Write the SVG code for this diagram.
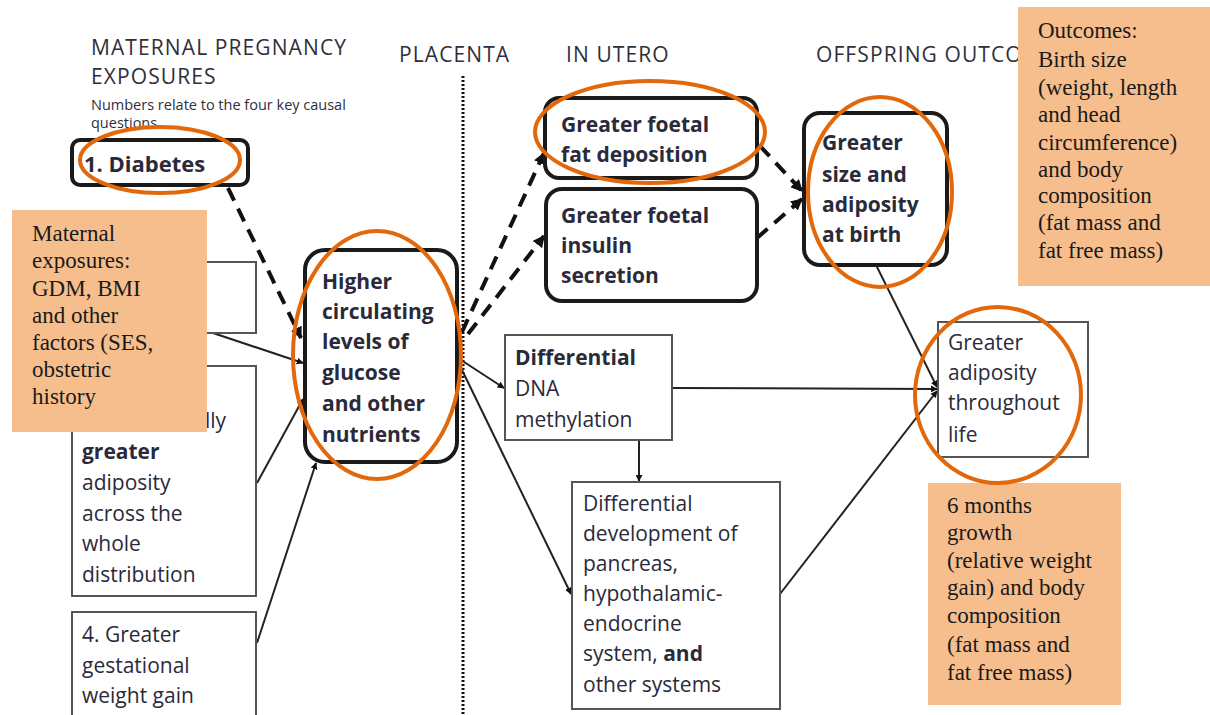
<svg xmlns="http://www.w3.org/2000/svg" width="1210" height="715" viewBox="0 0 1210 715">
  <style>
    .hdr { font-family: "Open Sans", "Liberation Sans", sans-serif; font-size: 21px; letter-spacing: 1.1px; fill: #2f2f3c; }
    .small { font-family: "Open Sans", "Liberation Sans", sans-serif; font-size: 14.5px; fill: #2f2f3c; }
    .t { font-family: "Open Sans", "Liberation Sans", sans-serif; font-size: 21px; fill: #2a2a3a; }
    .b { font-weight: bold; }
    .note { font-family: "Liberation Serif", "Times New Roman", serif; font-size: 23px; fill: #1a1a1a; }
    .thick { fill: #ffffff; stroke: #1a1a1a; stroke-width: 4; }
    .thin { fill: #ffffff; stroke: #555555; stroke-width: 2; }
    .peach { fill: #F7BE8D; }
    .ring { fill: none; stroke: #E2680C; stroke-width: 4; }
    .solid { fill: none; stroke: #222222; stroke-width: 2; }
    .dash { fill: none; stroke: #111111; stroke-width: 4; stroke-dasharray: 14 9; }
  </style>
  <defs>
    <marker id="arrow" viewBox="0 0 10 10" refX="9" refY="5" markerWidth="7" markerHeight="7" markerUnits="userSpaceOnUse" orient="auto">
      <path d="M0,0 L10,5 L0,10 z" fill="#111111"/>
    </marker>
    <marker id="arrowBig" viewBox="0 0 10 10" refX="9" refY="5" markerWidth="12" markerHeight="12" markerUnits="userSpaceOnUse" orient="auto">
      <path d="M0,0 L10,5 L0,10 z" fill="#111111"/>
    </marker>
  </defs>
  <rect width="1210" height="715" fill="#ffffff"/>

  <!-- column headings -->
  <g id="headings">
    <text class="hdr" x="91" y="55">MATERNAL PREGNANCY</text>
    <text class="hdr" x="91" y="84">EXPOSURES</text>
    <text class="small" x="91" y="110">Numbers relate to the four key causal</text>
    <text class="small" x="91" y="128">questions</text>
    <text class="hdr" x="399" y="62">PLACENTA</text>
    <text class="hdr" x="566" y="62">IN UTERO</text>
    <text class="hdr" x="816" y="62">OFFSPRING OUTCO</text>
  </g>

  <!-- placenta boundary -->
  <line id="placenta-line" x1="463" y1="76" x2="463" y2="715" stroke="#111111" stroke-width="3" stroke-dasharray="2 2"/>

  <!-- connectors -->
  <g id="connectors">
    <line class="dash" x1="228" y1="188" x2="301" y2="338" marker-end="url(#arrowBig)"/>
    <line class="solid" x1="207" y1="331" x2="303" y2="363" marker-end="url(#arrow)"/>
    <line class="solid" x1="257" y1="483" x2="303" y2="399" marker-end="url(#arrow)"/>
    <line class="solid" x1="257" y1="643" x2="316" y2="463" marker-end="url(#arrow)"/>
    <line class="dash" x1="462" y1="332" x2="544" y2="153" marker-end="url(#arrowBig)"/>
    <line class="dash" x1="468" y1="334" x2="544" y2="236" marker-end="url(#arrowBig)"/>
    <line class="solid" x1="461" y1="360" x2="504" y2="388" marker-end="url(#arrow)"/>
    <line class="solid" x1="462" y1="370" x2="571" y2="594" marker-end="url(#arrow)"/>
    <line class="solid" x1="639" y1="440" x2="639" y2="481" marker-end="url(#arrow)"/>
    <line class="solid" x1="672" y1="388" x2="937" y2="389" marker-end="url(#arrow)"/>
    <line class="solid" x1="780" y1="594" x2="937" y2="391" marker-end="url(#arrow)"/>
    <line class="solid" x1="876" y1="265" x2="937" y2="387" marker-end="url(#arrow)"/>
    <line class="dash" x1="760" y1="146" x2="802" y2="191" marker-end="url(#arrowBig)"/>
    <line class="dash" x1="757" y1="238" x2="802" y2="199" marker-end="url(#arrowBig)"/>
  </g>

  <!-- maternal exposure boxes -->
  <g id="diabetes">
    <rect class="thick" x="72" y="140" width="176" height="45" rx="8"/>
    <text class="t b" x="84" y="172" style="font-size:22px">1. Diabetes</text>
  </g>
  <g id="obesity">
    <rect class="thin" x="72" y="262" width="184" height="71"/>
  </g>
  <g id="adiposity">
    <rect class="thin" x="72" y="366" width="184" height="230"/>
    <text class="t" x="205" y="428">lly</text>
    <text class="t" x="82" y="459"><tspan class="b">greater</tspan></text>
    <text class="t" x="82" y="490">adiposity</text>
    <text class="t" x="82" y="521">across the</text>
    <text class="t" x="82" y="551">whole</text>
    <text class="t" x="82" y="582">distribution</text>
  </g>
  <g id="weight-gain">
    <rect class="thin" x="72" y="612" width="184" height="110"/>
    <text class="t" x="82" y="642">4. Greater</text>
    <text class="t" x="82" y="673">gestational</text>
    <text class="t" x="82" y="703">weight gain</text>
  </g>

  <!-- placental mediator -->
  <g id="nutrients">
    <rect class="thick" x="305" y="250" width="152" height="212" rx="20"/>
    <text class="t b" x="322" y="289">Higher</text>
    <text class="t b" x="322" y="319">circulating</text>
    <text class="t b" x="322" y="349">levels of</text>
    <text class="t b" x="322" y="380">glucose</text>
    <text class="t b" x="322" y="411">and other</text>
    <text class="t b" x="322" y="442">nutrients</text>
  </g>

  <!-- in utero nodes -->
  <g id="fat-deposition">
    <rect class="thick" x="545" y="98" width="212" height="80" rx="14"/>
    <text class="t b" x="561" y="132">Greater foetal</text>
    <text class="t b" x="561" y="162">fat deposition</text>
  </g>
  <g id="insulin">
    <rect class="thick" x="546" y="189" width="211" height="112" rx="16"/>
    <text class="t b" x="561" y="223">Greater foetal</text>
    <text class="t b" x="561" y="253">insulin</text>
    <text class="t b" x="561" y="283">secretion</text>
  </g>
  <g id="methylation">
    <rect class="thin" x="505" y="335" width="167" height="105"/>
    <text class="t b" x="515" y="365">Differential</text>
    <text class="t" x="515" y="396">DNA</text>
    <text class="t" x="515" y="427">methylation</text>
  </g>
  <g id="development">
    <rect class="thin" x="572" y="482" width="208" height="227"/>
    <text class="t" x="583" y="511">Differential</text>
    <text class="t" x="583" y="541">development of</text>
    <text class="t" x="583" y="571">pancreas,</text>
    <text class="t" x="583" y="601">hypothalamic-</text>
    <text class="t" x="583" y="631">endocrine</text>
    <text class="t" x="583" y="661">system, <tspan class="b">and</tspan></text>
    <text class="t" x="583" y="692">other systems</text>
  </g>

  <!-- offspring outcomes -->
  <g id="birth-size">
    <rect class="thick" x="804" y="113" width="143" height="152" rx="16"/>
    <text class="t b" x="822" y="150">Greater</text>
    <text class="t b" x="822" y="182">size and</text>
    <text class="t b" x="822" y="212">adiposity</text>
    <text class="t b" x="822" y="242">at birth</text>
  </g>
  <g id="lifelong-adiposity">
    <rect class="thin" x="938" y="322" width="150" height="135"/>
    <text class="t" x="948" y="350">Greater</text>
    <text class="t" x="948" y="380">adiposity</text>
    <text class="t" x="948" y="410">throughout</text>
    <text class="t" x="948" y="442">life</text>
  </g>

  <!-- annotation notes -->
  <g id="note-exposures">
    <rect class="peach" x="12" y="210" width="195" height="222"/>
    <text class="note" x="32" y="241">Maternal</text>
    <text class="note" x="32" y="268">exposures:</text>
    <text class="note" x="32" y="296">GDM, BMI</text>
    <text class="note" x="32" y="323">and other</text>
    <text class="note" x="32" y="350">factors (SES,</text>
    <text class="note" x="32" y="377">obstetric</text>
    <text class="note" x="32" y="404">history</text>
  </g>
  <g id="note-outcomes">
    <rect class="peach" x="1018" y="7" width="192" height="279"/>
    <text class="note" x="1038" y="38">Outcomes:</text>
    <text class="note" x="1038" y="67">Birth size</text>
    <text class="note" x="1038" y="95">(weight, length</text>
    <text class="note" x="1038" y="122">and head</text>
    <text class="note" x="1038" y="150">circumference)</text>
    <text class="note" x="1038" y="177">and body</text>
    <text class="note" x="1038" y="203">composition</text>
    <text class="note" x="1038" y="230">(fat mass and</text>
    <text class="note" x="1038" y="258">fat free mass)</text>
  </g>
  <g id="note-growth">
    <rect class="peach" x="928" y="483" width="193" height="222"/>
    <text class="note" x="947" y="513">6 months</text>
    <text class="note" x="947" y="540">growth</text>
    <text class="note" x="947" y="568">(relative weight</text>
    <text class="note" x="947" y="595">gain) and body</text>
    <text class="note" x="947" y="623">composition</text>
    <text class="note" x="947" y="652">(fat mass and</text>
    <text class="note" x="947" y="680">fat free mass)</text>
  </g>

  <!-- highlight rings -->
  <g id="highlights">
    <ellipse class="ring" cx="160" cy="160" rx="80" ry="33"/>
    <ellipse class="ring" cx="377" cy="355" rx="84" ry="124"/>
    <ellipse class="ring" cx="650" cy="132" rx="115" ry="51"/>
    <ellipse class="ring" cx="880" cy="192" rx="72" ry="95"/>
    <ellipse class="ring" cx="998" cy="395" rx="83" ry="88"/>
  </g>
</svg>
